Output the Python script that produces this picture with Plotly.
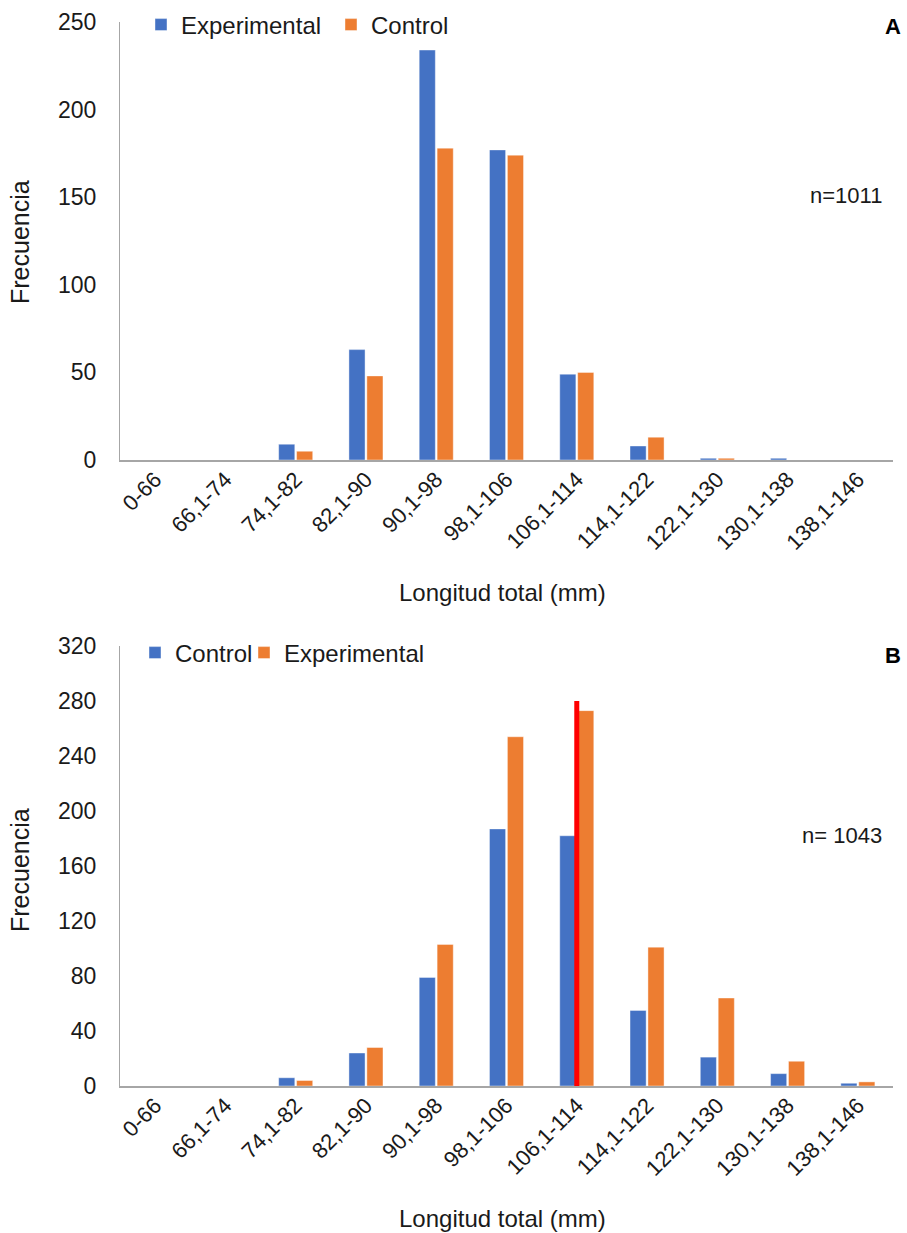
import plotly.graph_objects as go

categories = ["0-66", "66,1-74", "74,1-82", "82,1-90", "90,1-98", "98,1-106",
              "106,1-114", "114,1-122", "122,1-130", "130,1-138", "138,1-146"]

# Panel A
a_experimental = [0, 0, 9, 63, 234, 177, 49, 8, 1, 1, 0]
a_control = [0, 0, 5, 48, 178, 174, 50, 13, 1, 0, 0]

# Panel B
b_control = [0, 0, 6, 24, 79, 187, 182, 55, 21, 9, 2]
b_experimental = [0, 0, 4, 28, 103, 254, 273, 101, 64, 18, 3]

# Red marker line in panel B
marker_category = "106,1-114"
marker_value = 280

BLUE = "#4472C4"
ORANGE = "#ED7D31"
FONT = "Liberation Sans, Arial, sans-serif"
TXT = "#1a1a1a"
H = 1233.0
W = 907.0

fig = go.Figure()

def bar(x, y, name, color, xa, ya, legend):
    return go.Bar(x=x, y=y, name=name,
                  marker=dict(color=color, line=dict(color="rgba(255,255,255,0.7)", width=0.6)),
                  xaxis=xa, yaxis=ya, legend=legend)

fig.add_trace(bar(categories, a_experimental, "Experimental", BLUE, "x", "y", "legend"))
fig.add_trace(bar(categories, a_control, "Control", ORANGE, "x", "y", "legend2"))
fig.add_trace(bar(categories, b_control, "Control", BLUE, "x2", "y2", "legend3"))
fig.add_trace(bar(categories, b_experimental, "Experimental", ORANGE, "x2", "y2", "legend4"))
fig.add_trace(go.Scatter(x=[marker_category, marker_category], y=[0, marker_value], mode="lines",
                         line=dict(color="#FF0000", width=5), showlegend=False,
                         xaxis="x2", yaxis="y2", hoverinfo="skip"))

xdom = [120 / W, 893 / W]
ydomA = [1 - 460 / H, 1 - 22 / H]
ydomB = [1 - 1086 / H, 1 - 646 / H]

xcommon = dict(type="category", categoryorder="array", categoryarray=categories,
               showline=True, linecolor="#A6A6A6", linewidth=2, ticks="", showgrid=False,
               tickangle=-45, tickfont=dict(family=FONT, size=22, color=TXT), domain=xdom,
               ticklabelstandoff=-4, fixedrange=True, automargin=False)
ycommon = dict(showline=True, linecolor="#A6A6A6", linewidth=1, ticks="", showgrid=False,
               zeroline=False, tickfont=dict(family=FONT, size=23, color=TXT),
               ticklabelstandoff=18, automargin=False)

def leg(xtext, yc):
    return dict(orientation="h", x=(xtext - 42) / W, y=1 - yc / H, xanchor="left", yanchor="middle",
                font=dict(family=FONT, size=24, color=TXT), bgcolor="rgba(0,0,0,0)", itemwidth=30)

fig.update_layout(
    width=907, height=1233,
    margin=dict(l=0, r=0, t=0, b=0, autoexpand=False),
    paper_bgcolor="white", plot_bgcolor="white",
    barmode="group", bargap=0.49, bargroupgap=0.1,
    font=dict(family=FONT, color=TXT),
    xaxis=dict(xcommon, anchor="y"),
    yaxis=dict(ycommon, domain=ydomA, range=[0, 250], dtick=50, anchor="x"),
    xaxis2=dict(xcommon, anchor="y2"),
    yaxis2=dict(ycommon, domain=ydomB, range=[0, 320], dtick=40, anchor="x2"),
    legend=leg(183, 25),
    legend2=leg(373, 25),
    legend3=leg(177, 653),
    legend4=leg(286, 653),
    showlegend=True,
)

ann = []
ann.append(dict(text="<b>A</b>", x=903 / W, y=1 - 27 / H, xref="paper", yref="paper",
                xanchor="right", yanchor="middle", showarrow=False, font=dict(size=22, family=FONT, color="black")))
ann.append(dict(text="<b>B</b>", x=903 / W, y=1 - 655 / H, xref="paper", yref="paper",
                xanchor="right", yanchor="middle", showarrow=False, font=dict(size=22, family=FONT, color="black")))
ann.append(dict(text="n=1011", x=884 / W, y=1 - 195 / H, xref="paper", yref="paper",
                xanchor="right", yanchor="middle", showarrow=False, font=dict(size=22, family=FONT, color=TXT)))
ann.append(dict(text="n= 1043", x=884 / W, y=1 - 835 / H, xref="paper", yref="paper",
                xanchor="right", yanchor="middle", showarrow=False, font=dict(size=22, family=FONT, color=TXT)))
for yc in (242, 870):
    ann.append(dict(text="Frecuencia", x=20 / W, y=1 - yc / H, xref="paper", yref="paper",
                    xanchor="center", yanchor="middle", textangle=-90, showarrow=False,
                    font=dict(size=25, family=FONT, color=TXT)))
for yc in (592, 1218):
    ann.append(dict(text="Longitud total (mm)", x=503 / W, y=1 - yc / H, xref="paper", yref="paper",
                    xanchor="center", yanchor="middle", showarrow=False,
                    font=dict(size=24, family=FONT, color=TXT)))
fig.update_layout(annotations=ann)

fig.write_html("out.html", config={"displayModeBar": False},
               post_script="document.body.style.margin='0';document.body.style.overflow='hidden';")
